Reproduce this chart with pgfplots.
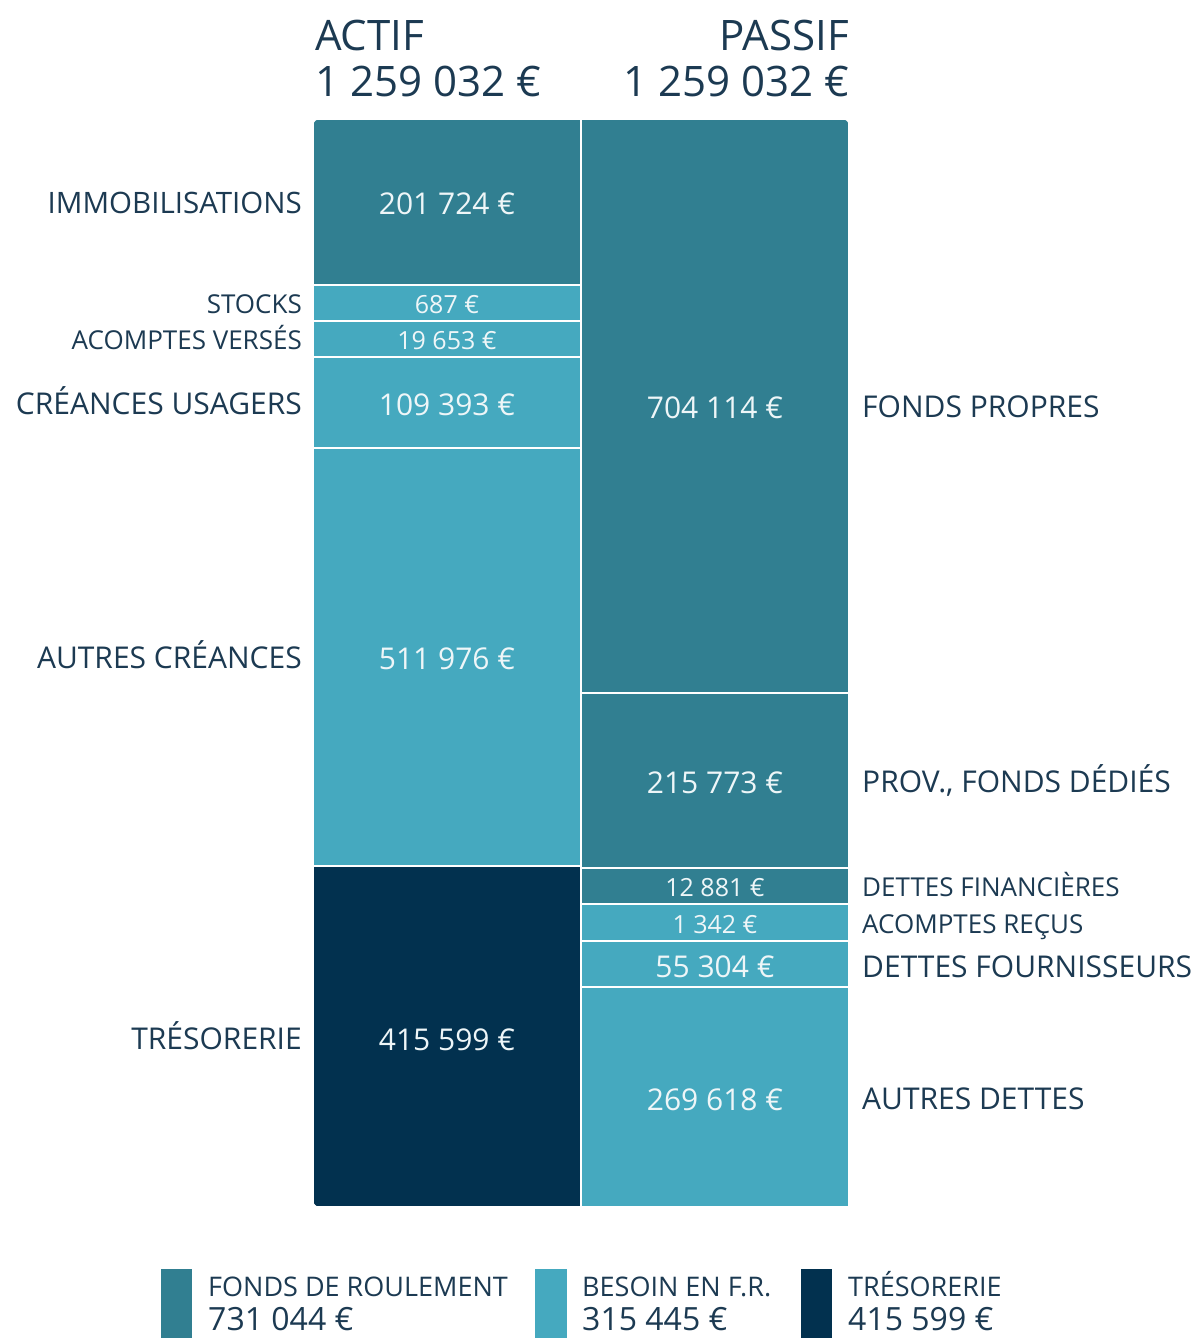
\documentclass[border=0pt]{standalone}
\usepackage{pgfplots}
\pgfplotsset{compat=1.18}
\usepackage{fontspec}
\setmainfont{Open Sans}
\definecolor{fr}{HTML}{317F91}
\definecolor{bfr}{HTML}{45A9BF}
\definecolor{tr}{HTML}{02314F}
\definecolor{txt}{HTML}{1C3A52}
\definecolor{valc}{HTML}{EEF6F8}
\newcommand{\fs}[1]{\fontsize{#1bp}{#1bp}\selectfont}
% label helper: anchor, size, colour, x (px), baseline y (px from top), text
\newcommand{\lab}[6]{\node[anchor=#1,font=\fs{#2},text=#3,inner sep=0pt] at (axis cs:#4,{1207-#5}) {#6};}
\pgfplotsset{base/.style={
  width=1195bp, height=1338bp, scale only axis,
  xmin=0, xmax=1195, ymin=-131, ymax=1207,
  hide axis, clip=false,
  ybar stacked, bar width=268,
  every axis plot/.append style={draw=white, line width=2bp},
}}
\begin{document}
\begin{tikzpicture}
\fill[white] (0,0) rectangle (1195bp,1338bp);
% ACTIF column: displayed heights (px), bottom to top
\begin{axis}[base]
\addplot[fill=tr]  coordinates {(447,341)}; % TRESORERIE 415 599
\addplot[fill=bfr] coordinates {(447,418)}; % AUTRES CREANCES 511 976
\addplot[fill=bfr] coordinates {(447,91)};  % CREANCES USAGERS 109 393
\addplot[fill=bfr] coordinates {(447,36)};  % ACOMPTES VERSES 19 653
\addplot[fill=bfr] coordinates {(447,36)};  % STOCKS 687
\addplot[fill=fr]  coordinates {(447,166)}; % IMMOBILISATIONS 201 724
\end{axis}
% PASSIF column
\begin{axis}[base]
\addplot[fill=bfr] coordinates {(715,219.5)}; % AUTRES DETTES 269 618
\addplot[fill=bfr] coordinates {(715,46.5)};  % DETTES FOURNISSEURS 55 304
\addplot[fill=bfr] coordinates {(715,36.5)};  % ACOMPTES RECUS 1 342
\addplot[fill=fr]  coordinates {(715,36)};    % DETTES FINANCIERES 12 881
\addplot[fill=fr]  coordinates {(715,175)};   % PROV., FONDS DEDIES 215 773
\addplot[fill=fr]  coordinates {(715,574.5)}; % FONDS PROPRES 704 114
\end{axis}
% texts on top
\begin{axis}[base]
% rounded outer corners (1 axis unit = 1bp)
\fill[white] (axis cs:313,1088) -- (axis cs:320,1088) arc[start angle=90,end angle=180,radius=7bp] -- cycle;
\fill[white] (axis cs:313,0) -- (axis cs:313,7) arc[start angle=180,end angle=270,radius=7bp] -- cycle;
\fill[white] (axis cs:849,1088) -- (axis cs:842,1088) arc[start angle=90,end angle=0,radius=7bp] -- cycle;
\lab{base west}{42}{txt}{315}{51}{ACTIF}
\lab{base west}{42}{txt}{315}{97}{1 259 032 €}
\lab{base east}{42}{txt}{849}{51}{PASSIF}
\lab{base east}{42}{txt}{849}{97}{1 259 032 €}
% actif
\lab{base east}{29.5}{txt}{302}{214}{IMMOBILISATIONS}
\lab{base}{30}{valc}{447}{215}{201 724 €}
\lab{base east}{26}{txt}{302}{313.6}{STOCKS}
\lab{base}{25}{valc}{447}{313.6}{687 €}
\lab{base east}{26}{txt}{302}{349.6}{ACOMPTES VERSÉS}
\lab{base}{25}{valc}{447}{349.6}{19 653 €}
\lab{base east}{30}{txt}{302}{415}{CRÉANCES USAGERS}
\lab{base}{30}{valc}{447}{415.7}{109 393 €}
\lab{base east}{30}{txt}{302}{669}{AUTRES CRÉANCES}
\lab{base}{30}{valc}{447}{670}{511 976 €}
\lab{base east}{30}{txt}{302}{1049}{TRÉSORERIE}
\lab{base}{30}{valc}{447}{1050}{415 599 €}
% passif
\lab{base}{30}{valc}{715}{419}{704 114 €}
\lab{base west}{30}{txt}{862}{418}{FONDS PROPRES}
\lab{base}{30}{valc}{715}{794}{215 773 €}
\lab{base west}{30}{txt}{862}{793}{PROV., FONDS DÉDIÉS}
\lab{base}{25}{valc}{715}{897}{12 881 €}
\lab{base west}{26}{txt}{862}{897}{DETTES FINANCIÈRES}
\lab{base}{25}{valc}{715}{933.6}{1 342 €}
\lab{base west}{26}{txt}{862}{933.6}{ACOMPTES REÇUS}
\lab{base}{30}{valc}{715}{977.7}{55 304 €}
\lab{base west}{30}{txt}{862}{977}{DETTES FOURNISSEURS}
\lab{base}{30}{valc}{715}{1110}{269 618 €}
\lab{base west}{30}{txt}{862}{1109}{AUTRES DETTES}
% legend
\fill[fr]  (axis cs:161,{1207-1269}) rectangle (axis cs:192,{1207-1338});
\fill[bfr] (axis cs:535,{1207-1269}) rectangle (axis cs:567,{1207-1338});
\fill[tr]  (axis cs:801,{1207-1269}) rectangle (axis cs:832,{1207-1338});
\lab{base west}{27}{txt}{208}{1296}{FONDS DE ROULEMENT}
\lab{base west}{32}{txt}{208}{1330}{731 044 €}
\lab{base west}{27}{txt}{582}{1296}{BESOIN EN F.R.}
\lab{base west}{32}{txt}{582}{1330}{315 445 €}
\lab{base west}{27}{txt}{848}{1296}{TRÉSORERIE}
\lab{base west}{32}{txt}{848}{1330}{415 599 €}
\end{axis}
\pgfresetboundingbox
\useasboundingbox (0,0) rectangle (1195bp,1338bp);
\end{tikzpicture}
\end{document}
